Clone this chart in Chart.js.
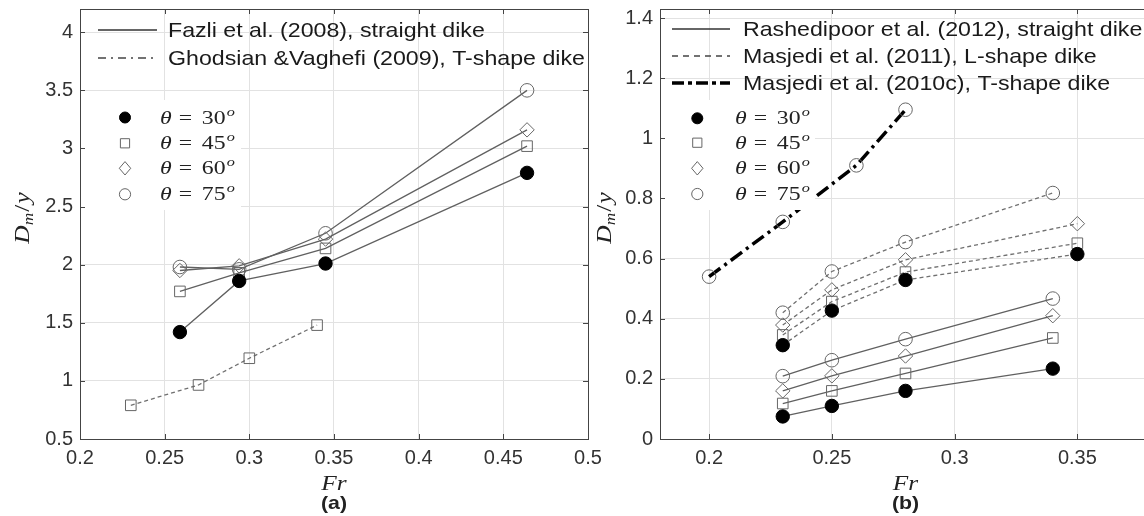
<!DOCTYPE html>
<html>
<head>
<meta charset="utf-8">
<title>Dm/y against Fr</title>
<script src="https://cdn.jsdelivr.net/npm/chart.js@4.4.1/dist/chart.umd.min.js"></script>
<style>
  html, body { margin: 0; padding: 0; background: #fff; overflow: hidden; width: 1144px; height: 516px; }
  canvas { position: absolute; top: 0; }
  #chartA { left: 0; }
  #chartB { left: 580px; }
</style>
</head>
<body>
<canvas id="chartA" width="620" height="516"></canvas>
<canvas id="chartB" width="600" height="516"></canvas>
<script>
// ---- values ----
// panel (a)
const frFazli = [0.259, 0.294, 0.345, 0.464];
const fazli30 = [1.42, 1.86, 2.01, 2.79];
const fazli45 = [1.77, 1.93, 2.14, 3.02];
const fazli60 = [1.95, 1.99, 2.22, 3.16];
const fazli75 = [1.98, 1.96, 2.27, 3.50];
const frGhodsian = [0.23, 0.27, 0.30, 0.34];
const ghodsian45 = [0.79, 0.965, 1.195, 1.48];
const xTicksA = [0.2, 0.25, 0.3, 0.35, 0.4, 0.45, 0.5];
const yTicksA = [0.5, 1, 1.5, 2, 2.5, 3, 3.5, 4];
const legendA = ['Fazli et al. (2008), straight dike', 'Ghodsian &Vaghefi (2009), T-shape dike'];

// panel (b)
const frRashedipoor = [0.23, 0.25, 0.28, 0.34];
const rash30 = [0.075, 0.11, 0.16, 0.234];
const rash45 = [0.118, 0.16, 0.218, 0.336];
const rash60 = [0.16, 0.21, 0.276, 0.41];
const rash75 = [0.209, 0.262, 0.332, 0.467];
const frMasjediL = [0.23, 0.25, 0.28, 0.35];
const frMasjediL75 = [0.23, 0.25, 0.28, 0.34];
const masL30 = [0.312, 0.427, 0.529, 0.615];
const masL45 = [0.346, 0.457, 0.555, 0.651];
const masL60 = [0.379, 0.496, 0.596, 0.716];
const masL75 = [0.42, 0.557, 0.655, 0.818];
const frMasjediT = [0.20, 0.23, 0.26, 0.28];
const masT75 = [0.54, 0.722, 0.91, 1.095];
const xTicksB = [0.2, 0.25, 0.3, 0.35];
const yTicksB = [0, 0.2, 0.4, 0.6, 0.8, 1, 1.2, 1.4];
const legendB = ['Rashedipoor et al. (2012), straight dike', 'Masjedi et al. (2011), L-shape dike', 'Masjedi et al. (2010c), T-shape dike'];

const thetaLabels = ['30', '45', '60', '75'];

// ---- styles ----
Chart.defaults.font.family = '"Liberation Sans", Arial, sans-serif';
Chart.defaults.color = '#333';

const markers = [
  {style: 'circle',  fill: '#000', edge: '#000', r: 6.7, lr: 5.5},
  {style: 'rect',    fill: 'rgba(0,0,0,0)', edge: '#666', r: 7.5, lr: 4.6},
  {style: 'rectRot', fill: 'rgba(0,0,0,0)', edge: '#666', r: 7.2, lr: 6.2},
  {style: 'circle',  fill: 'rgba(0,0,0,0)', edge: '#666', r: 6.8, lr: 5.6}
];
const solidGrey = {color: '#606060', width: 1.3, dash: []};
const dashGrey = {color: '#707070', width: 1.3, dash: [4, 3]};
const dashDotBlack = {color: '#000', width: 3.5, dash: [14, 5, 3, 5]};

function series(xs, ys, theta, line) {
  const m = markers[theta];
  return {
    data: xs.map((x, i) => ({x: x, y: ys[i]})),
    showLine: true,
    borderColor: line.color,
    borderWidth: line.width,
    borderDash: line.dash,
    pointStyle: m.style,
    pointRadius: m.r,
    pointBackgroundColor: m.fill,
    pointBorderColor: m.edge,
    pointBorderWidth: 1
  };
}

function axes(xMin, xMax, xTicks, yMin, yMax, yTicks) {
  const fmt = v => String(+Number(v).toFixed(2));
  return {
    x: {
      type: 'linear', min: xMin, max: xMax,
      afterBuildTicks: s => { s.ticks = xTicks.map(v => ({value: v})); },
      afterFit: s => { s.height = 77; s.paddingLeft = 0; s.paddingRight = 0; },
      grid: {color: '#e2e2e2', drawTicks: false},
      border: {display: false},
      ticks: {padding: 7, color: '#333', font: {size: 20}, maxRotation: 0, autoSkip: false, callback: fmt}
    },
    y: {
      type: 'linear', min: yMin, max: yMax,
      afterBuildTicks: s => { s.ticks = yTicks.map(v => ({value: v})); },
      afterFit: s => { s.width = 80; s.paddingTop = 0; s.paddingBottom = 0; },
      grid: {color: '#e2e2e2', drawTicks: false},
      border: {display: false},
      ticks: {padding: 7, color: '#333', font: {size: 20}, autoSkip: false, callback: fmt}
    }
  };
}

// ---- drawing helpers for the in-plot legends and titles ----
function stretchText(ctx, txt, x, y, font, sx, align) {
  ctx.save();
  ctx.font = font;
  ctx.translate(x, y);
  ctx.scale(sx, 1);
  ctx.textAlign = align || 'left';
  ctx.fillText(txt, 0, 0);
  ctx.restore();
}

function marker(ctx, m, x, y, r) {
  ctx.save();
  ctx.fillStyle = m.fill;
  ctx.strokeStyle = m.edge;
  ctx.lineWidth = 1;
  ctx.beginPath();
  if (m.style === 'circle') ctx.arc(x, y, r, 0, Math.PI * 2);
  else if (m.style === 'rect') ctx.rect(x - r, y - r, 2 * r, 2 * r);
  else { ctx.moveTo(x, y - r * 1.08); ctx.lineTo(x + r * 0.92, y); ctx.lineTo(x, y + r * 1.08); ctx.lineTo(x - r * 0.92, y); ctx.closePath(); }
  ctx.fill();
  ctx.stroke();
  ctx.restore();
}

function drawTheta(ctx, x, y, val) {
  ctx.save();
  ctx.translate(x, y + 6);
  ctx.scale(1.25, 1);
  ctx.fillStyle = '#222';
  ctx.textBaseline = 'alphabetic';
  ctx.font = 'italic 19px "Liberation Serif"';
  ctx.fillText('\u03B8', 0, 0);
  ctx.font = '19px "Liberation Serif"';
  ctx.fillText('=', 15, 0);
  ctx.fillText(val, 33.4, 0);
  ctx.font = 'italic 13px "Liberation Serif"';
  ctx.fillText('o', 53.4, -8);
  ctx.restore();
}

function drawYTitle(ctx, x, y) {
  ctx.save();
  ctx.translate(x, y);
  ctx.rotate(-Math.PI / 2);
  ctx.scale(1.15, 1);
  ctx.fillStyle = '#222';
  ctx.textBaseline = 'alphabetic';
  const big = 'italic 22px "Liberation Serif"', small = 'italic 15px "Liberation Serif"';
  ctx.font = big; const wD = ctx.measureText('D').width;
  ctx.font = small; const wm = ctx.measureText('m').width;
  ctx.font = '22px "Liberation Serif"'; const ws = ctx.measureText('/').width;
  ctx.font = big; const wy = ctx.measureText('y').width;
  let p = -(wD + wm + ws + wy + 2) / 2;
  ctx.font = big; ctx.fillText('D', p, 0); p += wD;
  ctx.font = small; ctx.fillText('m', p, 4); p += wm + 1;
  ctx.font = '22px "Liberation Serif"'; ctx.fillText('/', p, 0); p += ws + 1;
  ctx.font = big; ctx.fillText('y', p, 0);
  ctx.restore();
}

const deco = {
  id: 'deco',
  afterDatasetsDraw(chart, args, o) {
    const ctx = chart.ctx;
    ctx.save();
    ctx.fillStyle = '#fff';
    ctx.fillRect(o.box[0], o.box[1], o.box[2], o.box[3]);
    ctx.restore();
  },
  afterDraw(chart, args, o) {
    const ctx = chart.ctx, a = chart.chartArea;
    const xs = chart.scales.x, ys = chart.scales.y;
    ctx.save();
    ctx.strokeStyle = '#444';
    ctx.lineWidth = 1;
    ctx.beginPath();
    xs.ticks.forEach(t => {
      const px = Math.round(xs.getPixelForValue(t.value)) + 0.5;
      ctx.moveTo(px, a.bottom); ctx.lineTo(px, a.bottom - 5);
      ctx.moveTo(px, a.top); ctx.lineTo(px, a.top + 5);
    });
    ys.ticks.forEach(t => {
      const py = Math.round(ys.getPixelForValue(t.value)) + 0.5;
      ctx.moveTo(a.left, py); ctx.lineTo(a.left + 5, py);
      ctx.moveTo(a.right, py); ctx.lineTo(a.right - 5, py);
    });
    ctx.stroke();
    ctx.strokeRect(Math.round(a.left) + 0.5, Math.round(a.top) + 0.5, Math.round(a.right - a.left), Math.round(a.bottom - a.top));
    ctx.restore();

    // line-style legend
    o.lineStyles.forEach((ln, i) => {
      const y = o.lineRows[i];
      ctx.save();
      ctx.strokeStyle = ln.color; ctx.lineWidth = ln.width; ctx.setLineDash(ln.dash);
      ctx.beginPath(); ctx.moveTo(o.lineX[0], y); ctx.lineTo(o.lineX[1], y); ctx.stroke();
      ctx.restore();
      ctx.save();
      ctx.fillStyle = '#1a1a1a'; ctx.textBaseline = 'middle';
      stretchText(ctx, o.lineText[i], o.lineX[2], y + 1, '20.7px "Liberation Sans"', 1.12);
      ctx.restore();
    });

    // marker legend
    thetaLabels.forEach((lab, i) => {
      const y = o.markRows[i];
      marker(ctx, markers[i], o.markX[0], y, markers[i].lr);
      drawTheta(ctx, o.markX[1], y, lab);
    });

    // axis titles and panel label
    const cx = (a.left + a.right) / 2;
    drawYTitle(ctx, o.yTitleX, 218);
    ctx.save();
    ctx.fillStyle = '#222';
    ctx.textBaseline = 'alphabetic';
    stretchText(ctx, 'Fr', cx, 490, 'italic 22px "Liberation Serif"', 1.15, 'center');
    ctx.textBaseline = 'middle';
    stretchText(ctx, o.panel, cx, 504, 'bold 19px "Liberation Sans"', 1.12, 'center');
    ctx.restore();
  }
};

const chartA = new Chart(document.getElementById('chartA'), {
  type: 'scatter',
  data: {
    datasets: [
      series(frFazli, fazli30, 0, solidGrey),
      series(frFazli, fazli45, 1, solidGrey),
      series(frFazli, fazli60, 2, solidGrey),
      series(frFazli, fazli75, 3, solidGrey),
      series(frGhodsian, ghodsian45, 1, dashGrey)
    ]
  },
  options: {
    responsive: false,
    animation: false,
    layout: {padding: {left: 0, right: 32, top: 9, bottom: 0}},
    scales: axes(0.2, 0.5, xTicksA, 0.5, 4.2, yTicksA),
    plugins: {
      legend: {display: false},
      tooltip: {enabled: false},
      deco: {
        box: [81, 100, 160, 110],
        lineX: [98, 157, 168],
        lineRows: [30, 58],
        lineText: legendA,
        lineStyles: [
          {color: '#333', width: 1.6, dash: []},
          {color: '#444', width: 1.5, dash: [8, 5, 2, 5]}
        ],
        markX: [125, 160],
        markRows: [117.5, 143.3, 168.3, 194.3],
        yTitleX: 29,
        panel: '(a)'
      }
    }
  },
  plugins: [deco]
});

const chartB = new Chart(document.getElementById('chartB'), {
  type: 'scatter',
  data: {
    datasets: [
      series(frRashedipoor, rash30, 0, solidGrey),
      series(frRashedipoor, rash45, 1, solidGrey),
      series(frRashedipoor, rash60, 2, solidGrey),
      series(frRashedipoor, rash75, 3, solidGrey),
      series(frMasjediL, masL30, 0, dashGrey),
      series(frMasjediL, masL45, 1, dashGrey),
      series(frMasjediL, masL60, 2, dashGrey),
      series(frMasjediL75, masL75, 3, dashGrey),
      series(frMasjediT, masT75, 3, dashDotBlack)
    ]
  },
  options: {
    responsive: false,
    animation: false,
    layout: {padding: {left: 0, right: 29, top: 9, bottom: 0}},
    scales: axes(0.18, 0.38, xTicksB, 0, 1.43, yTicksB),
    plugins: {
      legend: {display: false},
      tooltip: {enabled: false},
      deco: {
        box: [81, 100, 154, 110],
        lineX: [92, 150, 163],
        lineRows: [29, 56, 83],
        lineText: legendB,
        lineStyles: [
          {color: '#333', width: 1.6, dash: []},
          {color: '#444', width: 1.5, dash: [6, 5]},
          {color: '#000', width: 3.5, dash: [12, 4, 4, 4]}
        ],
        markX: [117.3, 155],
        markRows: [118.3, 142.7, 168.3, 194],
        yTitleX: 31,
        panel: '(b)'
      }
    }
  },
  plugins: [deco]
});
</script>
</body>
</html>
